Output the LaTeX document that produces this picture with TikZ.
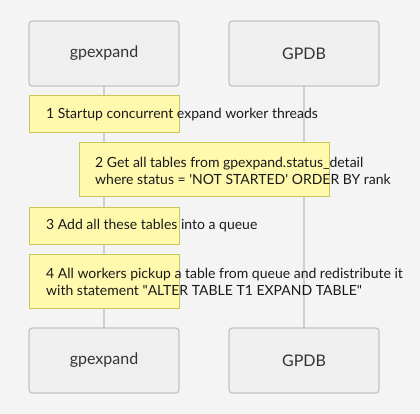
\documentclass[tikz,border=0pt]{standalone}
\usepackage{fontspec}
\setmainfont{Lato}
\definecolor{bg}{HTML}{F4F4F4}
\definecolor{actfill}{HTML}{EFEFEF}
\definecolor{actdraw}{HTML}{C4C4C4}
\definecolor{acttext}{HTML}{333333}
\definecolor{lifeline}{HTML}{D0D0D0}
\definecolor{notefill}{HTML}{FFF9AD}
\definecolor{notedraw}{HTML}{C8C85A}
\definecolor{notetext}{HTML}{1A1A1A}
\tikzset{
  actor/.style={draw=actdraw, fill=actfill, line width=1.2pt, rounded corners=3pt},
  actortext/.style={text=acttext, font=\fontsize{16}{19}\selectfont, inner sep=0pt},
  notebox/.style={draw=notedraw, fill=notefill, line width=1pt},
  notetext/.style={text=notetext, font=\fontsize{14}{17}\selectfont, inner sep=0pt, anchor=west, align=left},
  life/.style={draw=lifeline, line width=1.6pt}
}
\begin{document}
\begin{tikzpicture}[x=1pt,y=-1pt]
\fill[bg] (0,0) rectangle (420,414);
\useasboundingbox (0,0) rectangle (420,414);
% lifelines
\coordinate (l1t) at (104,86);
\coordinate (l1b) at (104,328);
\coordinate (l2t) at (304,86);
\coordinate (l2b) at (304,328);
\draw[life] (l1t) -- (l1b);
\draw[life] (l2t) -- (l2b);
% actors top
\draw[actor] (29,21) rectangle (179,86);
\node[actortext] (a1) at (104,53.5) {gpexpand};
\draw[actor] (229,21) rectangle (379,86);
\node[actortext] (a2) at (304,53.5) {GPDB};
% actors bottom
\draw[actor] (29,328) rectangle (179,393);
\node[actortext] (b1) at (104,360.5) {gpexpand};
\draw[actor] (229,328) rectangle (379,393);
\node[actortext] (b2) at (304,360.5) {GPDB};
% notes
\draw[notebox] (29,96) rectangle (179,133);
\node[notetext] (n1) at (46,115) {1 Startup concurrent expand worker threads};
\draw[notebox] (79,143) rectangle (329,197);
\node[notetext] (n2) at (95,171) {2 Get all tables from gpexpand.status\_detail\\where status = \textquotesingle NOT STARTED\textquotesingle{} ORDER BY rank};
\draw[notebox] (29,207) rectangle (179,244);
\node[notetext] (n3) at (46,226) {3 Add all these tables into a queue};
\draw[notebox] (29,254) rectangle (179,308);
\node[notetext] (n4) at (46,281.5) {4 All workers pickup a table from queue and redistribute it\\with statement \textquotedbl ALTER TABLE T1 EXPAND TABLE\textquotedbl};
\end{tikzpicture}
\end{document}
